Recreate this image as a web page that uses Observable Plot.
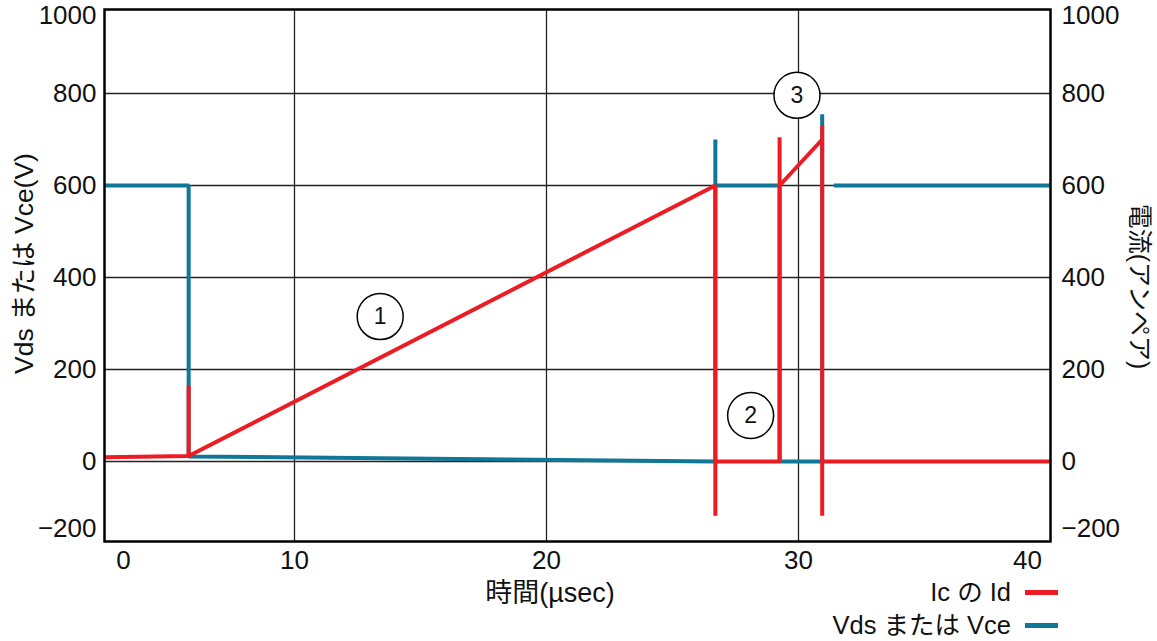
<!DOCTYPE html>
<html>
<head>
<meta charset="utf-8">
<script src="https://cdn.jsdelivr.net/npm/d3@7"></script>
<script src="https://cdn.jsdelivr.net/npm/@observablehq/plot@0.6"></script>
<style>
  body { margin: 0; background: #fff; font-family: 'Liberation Sans', Arial, 'Noto Sans CJK JP', sans-serif; color: #111; }
  #wrap { width: 1157px; }
  #below { position: relative; height: 63px; font-size: 25.5px; line-height: 26px; }
  #xtitle { position: absolute; left: 550px; top: 1px; transform: translateX(-50%); white-space: nowrap; font-size: 27px; line-height: 28px; }
  .lg { position: absolute; right: 99px; display: flex; align-items: center; white-space: nowrap; }
  .sw { width: 33px; height: 5px; margin-left: 14px; }
</style>
</head>
<body>
<div id="wrap">
  <div id="chart"></div>
  <div id="below"></div>
</div>
<script>
// ---- data ----
const xTicks = [0, 10, 20, 30, 40];
const yTicks = [-200, 0, 200, 400, 600, 800, 1000];
const xTitle = "時間(µsec)";
const yLeftTitle = "Vds または Vce(V)";
const yRightTitle = "電流(アンペア)";
const seriesNames = ["Ic の Id", "Vds または Vce"];
const seriesColors = ["#ec1c24", "#117796"];

// Ic / Id (A) vs time (µs)
const redT = [2.5, 5.8, 5.8, 5.8, 26.7, 26.7, 26.7, 29.25, 29.25, 29.25, 30.94, 30.94, 30.94, 30.94, 40];
const redI = [9, 12, 165, 12, 600, -118, 0, 0, 705, 600, 700, 730, -118, 0, 0];

// Vds / Vce (V) vs time (µs); null = gap
const blueT = [2.5, 5.8, 5.8, 26.7, 26.7, 26.7, 29.25, 29.25, 30.94, 30.94, 30.94, 31.4, 40];
const blueV = [600, 600, 11, 0, 700, 600, 600, 0, 0, 755, null, 600, 600];

// numbered annotations
const noteLabel = ["1", "2", "3"];
const noteT = [13.4, 28.1, 29.94];
const noteY = [315, 100, 796];

// ---- build ----
const red = redT.map((t, i) => ({t, v: redI[i]}));
const blue = blueT.map((t, i) => ({t, v: blueV[i]}));
const notes = noteLabel.map((s, i) => ({s, t: noteT[i], v: noteY[i]}));
const fmt = d => (d < 0 ? "−" : "") + Math.abs(d);
const inner = yTicks.slice(1, -1);
const font = "'Liberation Sans', Arial, 'Noto Sans CJK JP', sans-serif";
const axisCommon = {tickSize: 0, fontSize: 26, label: null, tickFormat: fmt};

const chart = Plot.plot({
  width: 1157,
  height: 578,
  marginLeft: 104,
  marginRight: 107,
  marginTop: 9,
  marginBottom: 37,
  style: {fontFamily: font, background: "white", color: "#111"},
  x: {domain: [10, 40], range: [294, 1050]},
  y: {domain: [0, 800], range: [461, 93]},
  marks: [
    Plot.gridX(xTicks.slice(1, -1), {stroke: "#222", strokeOpacity: 1, strokeWidth: 1.3}),
    Plot.gridY(inner, {stroke: "#222", strokeOpacity: 1, strokeWidth: 1.3}),
    Plot.line(blue, {x: "t", y: "v", stroke: seriesColors[1], strokeWidth: 4, strokeLinecap: "butt", strokeLinejoin: "miter"}),
    Plot.line(red, {x: "t", y: "v", stroke: seriesColors[0], strokeWidth: 4, strokeLinecap: "butt", strokeLinejoin: "miter"}),
    Plot.frame({stroke: "black", strokeWidth: 2.5}),
    Plot.dot(notes, {x: "t", y: "v", r: 23, fill: "white", stroke: "black", strokeWidth: 1.5}),
    Plot.text(notes, {x: "t", y: "v", text: "s", fontSize: 23, fill: "#111"}),
    // left axis
    Plot.axisY(inner, {...axisCommon, anchor: "left", tickPadding: 8}),
    Plot.axisY([yTicks[yTicks.length - 1]], {...axisCommon, anchor: "left", tickPadding: 8, dy: 14}),
    Plot.axisY([yTicks[0]], {...axisCommon, anchor: "left", tickPadding: 8, dy: -25}),
    // right axis
    Plot.axisY(inner, {...axisCommon, anchor: "right", tickPadding: 11}),
    Plot.axisY([yTicks[yTicks.length - 1]], {...axisCommon, anchor: "right", tickPadding: 11, dy: 14}),
    Plot.axisY([yTicks[0]], {...axisCommon, anchor: "right", tickPadding: 11, dy: -25}),
    // bottom axis
    Plot.axisX(xTicks.slice(1, -1), {...axisCommon, anchor: "bottom", tickPadding: 9}),
    Plot.axisX([xTicks[0]], {...axisCommon, anchor: "bottom", tickPadding: 9, dx: 81}),
    Plot.axisX([xTicks[xTicks.length - 1]], {...axisCommon, anchor: "bottom", tickPadding: 9, dx: -23}),
    // axis titles
    Plot.text([yLeftTitle], {frameAnchor: "left", textAnchor: "middle", rotate: -90, dx: -80, dy: -12, fontSize: 26.5, fill: "#111"}),
    Plot.text([yRightTitle], {frameAnchor: "right", textAnchor: "middle", rotate: 90, dx: 88, dy: 11, fontSize: 25, fill: "#111"})
  ]
});
document.getElementById("chart").appendChild(chart);

// x title + legend below the svg
const below = document.getElementById("below");
const xt = document.createElement("div");
xt.id = "xtitle";
xt.textContent = xTitle;
below.appendChild(xt);
seriesNames.forEach((name, i) => {
  const row = document.createElement("div");
  row.className = "lg";
  row.style.top = (1 + i * 33) + "px";
  const span = document.createElement("span");
  span.textContent = name;
  const sw = document.createElement("span");
  sw.className = "sw";
  sw.style.background = seriesColors[i];
  row.appendChild(span);
  row.appendChild(sw);
  below.appendChild(row);
});
</script>
</body>
</html>
